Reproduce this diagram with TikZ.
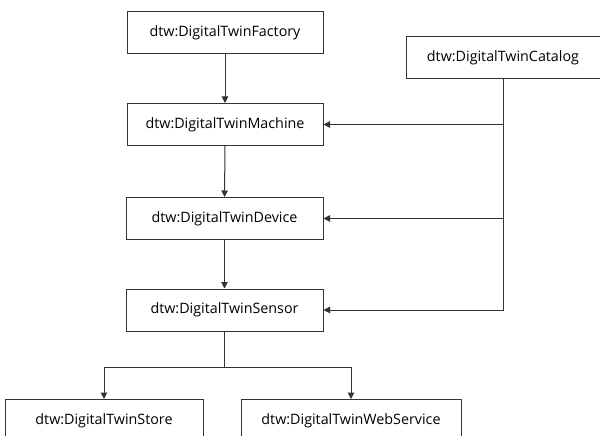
\documentclass[tikz,border=0pt]{standalone}
\usepackage{fontspec}
\setmainfont{Open Sans}
\usetikzlibrary{arrows.meta}
\definecolor{linec}{HTML}{333333}
\begin{document}
\begin{tikzpicture}[x=1pt,y=-1pt,
  box/.style={draw=linec, line width=1pt, fill=white, inner sep=0pt, minimum height=42pt, font=\fontsize{14.3}{16}\selectfont},
  conn/.style={draw=linec, line width=1pt},
  arr/.style={conn, -{Triangle[length=6.5pt,width=6.5pt]}}]
\useasboundingbox[fill=white] (0,0) rectangle (600,436);
\node[box, minimum width=196pt] (factory) at (225,32.5) {dtw:DigitalTwinFactory};
\node[box, minimum width=196pt] (machine) at (225,124.5) {dtw:DigitalTwinMachine};
\node[box, minimum width=197pt] (device) at (224.5,218.5) {dtw:DigitalTwinDevice};
\node[box, minimum width=197pt] (sensor) at (224.5,310) {dtw:DigitalTwinSensor};
\node[box, minimum width=194pt] (catalog) at (503,58) {dtw:DigitalTwinCatalog};
\node[box, minimum width=198pt] (store) at (104,420.5) {dtw:DigitalTwinStore};
\node[box, minimum width=220pt] (web) at (351,420.5) {dtw:DigitalTwinWebService};
\draw[arr] (factory) -- (machine);
\draw[arr] (machine) -- (device);
\draw[arr] (device) -- (sensor);
\draw[arr] (catalog.south) |- (sensor.east);
\draw[arr] (catalog.south |- machine.east) -- (machine.east);
\draw[arr] (catalog.south |- device.east) -- (device.east);
\draw[conn] (sensor.south) -- ++(0,36) coordinate (br);
\draw[arr] (br) -| (store.north);
\draw[arr] (br) -| (web.north);
\end{tikzpicture}
\end{document}
